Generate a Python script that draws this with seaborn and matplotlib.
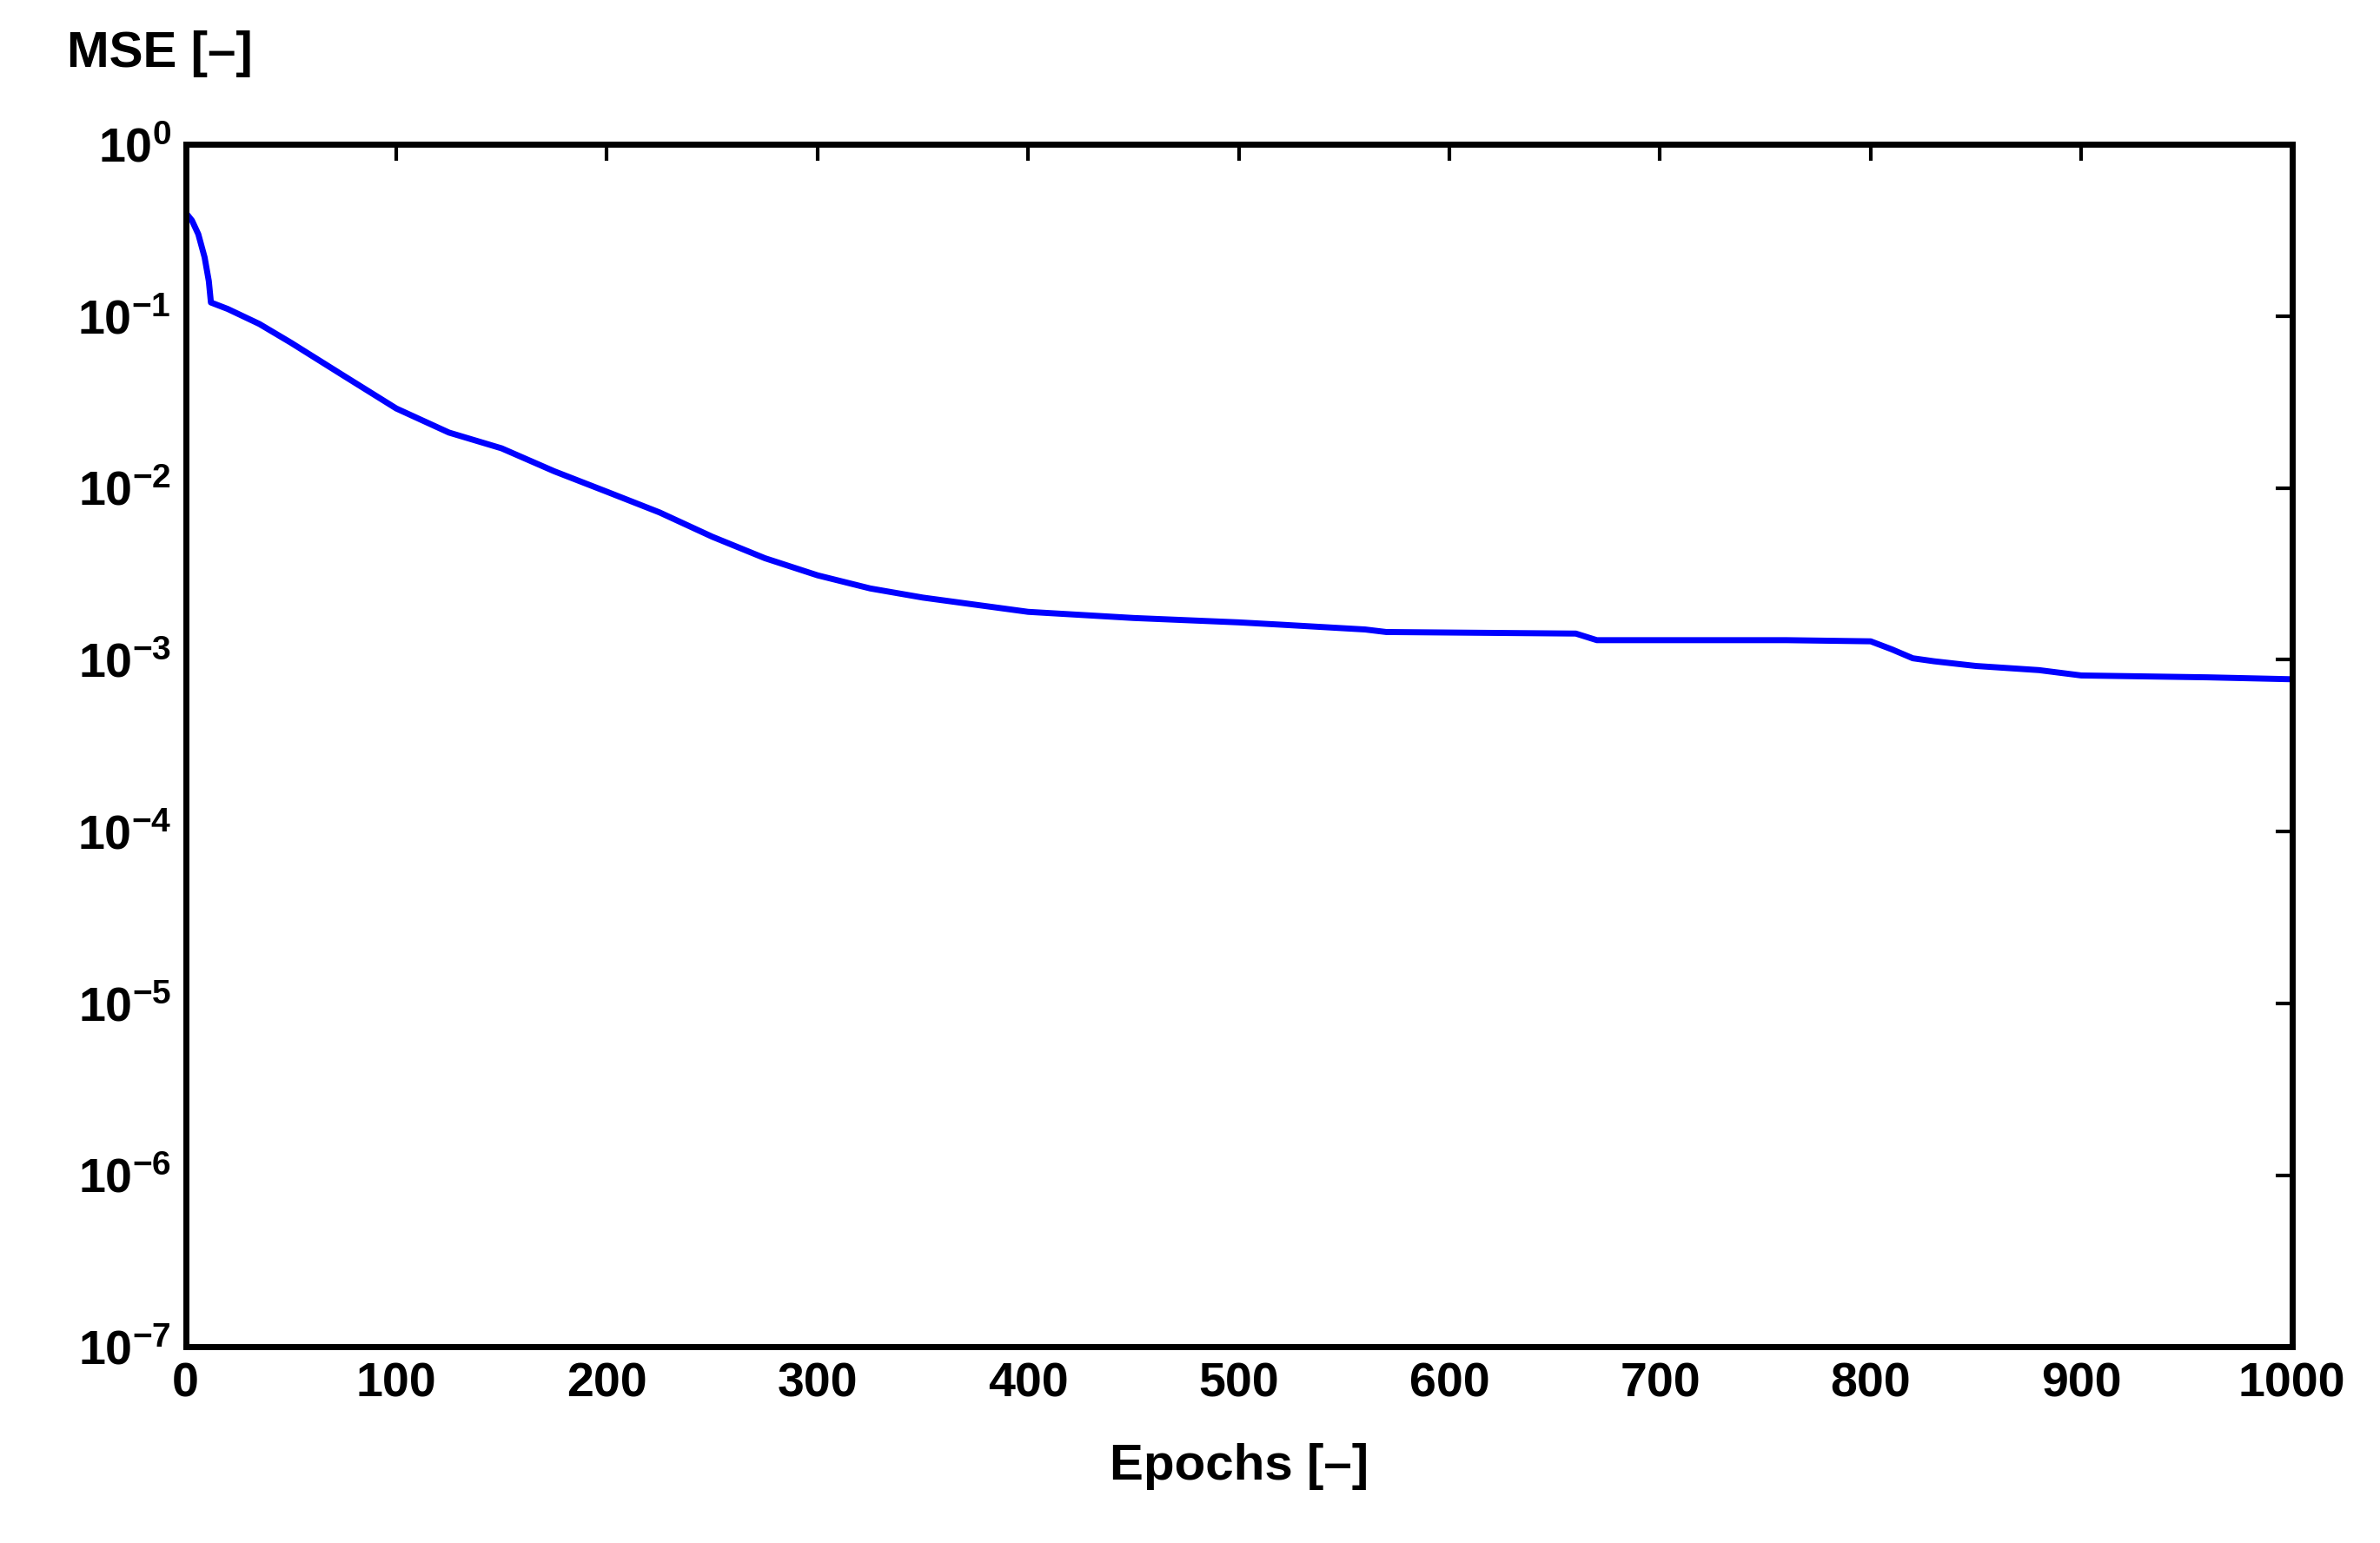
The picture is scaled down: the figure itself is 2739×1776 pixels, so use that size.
import numpy as np
import pandas as pd
import seaborn as sns
import matplotlib.pyplot as plt

epochs = [0, 3, 6, 9, 11, 12, 20, 35, 50, 75, 100, 125, 150, 175, 200, 225, 250, 275, 300,
          325, 350, 400, 450, 500, 520, 560, 570, 660, 670, 760, 800, 810, 820, 830, 850,
          880, 900, 960, 1000]
mse = [0.40, 0.36, 0.30, 0.22, 0.16, 0.12, 0.11, 0.09, 0.070, 0.045, 0.029, 0.021, 0.017,
       0.0125, 0.0095, 0.0072, 0.0052, 0.0039, 0.0031, 0.0026, 0.0023, 0.0019, 0.00175,
       0.00165, 0.0016, 0.0015, 0.00145, 0.00142, 0.0013, 0.0013, 0.00128, 0.00115,
       0.00102, 0.00098, 0.00092, 0.00087, 0.00081, 0.00079, 0.00077]
df = pd.DataFrame({"epoch": epochs, "mse": mse})

sns.set_style("white")
plt.rcParams['font.family'] = ['Liberation Sans', 'DejaVu Sans']
plt.rcParams['mathtext.fontset'] = 'custom'
plt.rcParams['mathtext.rm'] = 'Liberation Sans:bold'
plt.rcParams['mathtext.it'] = 'Liberation Sans:bold'
plt.rcParams['text.color'] = 'black'
plt.rcParams['xtick.color'] = 'black'
plt.rcParams['ytick.color'] = 'black'

fig = plt.figure(figsize=(27.39, 17.76), dpi=100)
ax = fig.add_axes([0.078, 0.127, 0.885, 0.7795])
sns.lineplot(data=df, x="epoch", y="mse", ax=ax, color="#0000ff", linewidth=5)
ax.set_yscale("log")
ax.set_xlim(0, 1000)
ax.set_ylim(1e-7, 1)
ax.set_xticks(range(0, 1001, 100))
ax.set_yticks([10.0 ** k for k in range(-7, 1)])
ax.minorticks_off()
ax.tick_params(direction="in", length=14, width=3, top=True, right=True, labelsize=40,
               pad=12, colors="black")
for lbl in ax.get_xticklabels() + ax.get_yticklabels():
    lbl.set_fontweight("bold")
for s in ax.spines.values():
    s.set_linewidth(5)
    s.set_color("black")
ax.set_xlabel("Epochs [\u2013]", fontsize=42, fontweight="bold", labelpad=30, color="black")
ax.set_ylabel("")
fig.text(0.028, 0.965, "MSE [\u2013]", fontsize=42, fontweight="bold", va="center")
fig.savefig("out.png", dpi=100)
